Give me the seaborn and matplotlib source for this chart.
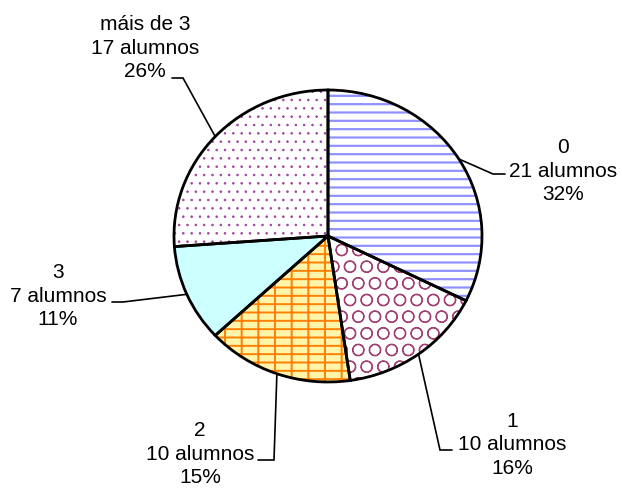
import matplotlib
matplotlib.use("Agg")
import matplotlib.pyplot as plt
import seaborn as sns
import numpy as np

# data
categories = ["0", "1", "2", "3", "máis de 3"]
alumnos = [21, 10, 10, 7, 17]
percent = [32, 16, 15, 11, 26]

# styling per slice
fills = ["white", "white", "#FFF5AA", "#CCFFFF", "white"]
hatch_colors = ["#9090FF", "#A04070", "#FF8000", "#CCFFFF", "#A040A0"]
hatches = ["--", "O", "--|", "", ".."]
hatch_lw = [1.6, 0.8, 1.4, 1.0, 0.6]

sns.set_theme(style="white")
plt.rcParams["font.family"] = ["Liberation Sans", "DejaVu Sans"]
plt.rcParams["hatch.linewidth"] = 1.0

# pie geometry in pixels (slightly wider than tall, like the original)
W, H = 622, 491
CX, CY, RX, RY = 328, 236, 154, 146


def px(x, y):
    return ((x - CX) / RX, (CY - y) / RY)


# label centre and elbow of the leader line, in pixels
label_pos = [(563, 171), (512, 445), (200, 454), (58, 296), (145, 48)]
elbows = [[(493, 174), (505, 174)],
          [(440, 450), (452, 450)],
          [(274, 460), (258, 460)],
          [(123, 302), (112, 302)],
          [(183, 78), (172, 78)]]

fig = plt.figure(figsize=(W / 100, H / 100), dpi=100)
ax = fig.add_axes([0, 0, 1, 1])

wedges, _ = ax.pie(alumnos, startangle=90, counterclock=False, radius=1,
                   colors=fills, wedgeprops=dict(linewidth=0))
for w, h, hc, lw in zip(wedges, hatches, hatch_colors, hatch_lw):
    w.set_edgecolor(hc)
    w.set_linewidth(0)
    if h:
        w.set_hatch(h)
        if hasattr(w, "set_hatch_linewidth"):
            w.set_hatch_linewidth(lw)
        else:
            w._hatch_linewidth = lw

outline, _ = ax.pie(alumnos, startangle=90, counterclock=False, radius=1,
                    colors=["none"] * len(alumnos),
                    wedgeprops=dict(linewidth=2, edgecolor="black", fill=False))

for i, w in enumerate(outline):
    mid = np.deg2rad((w.theta1 + w.theta2) / 2)
    pts = [(np.cos(mid), np.sin(mid))] + [px(*p) for p in elbows[i]]
    xs, ys = zip(*pts)
    ax.plot(xs, ys, color="black", lw=1.2, solid_joinstyle="miter")
    tx, ty = px(*label_pos[i])
    ax.text(tx, ty, f"{categories[i]}\n{alumnos[i]} alumnos\n{percent[i]}%",
            ha="center", va="center", multialignment="center", fontsize=15,
            linespacing=1.32, color="black")

ax.set_aspect("auto")
ax.set_xlim(-CX / RX, (W - CX) / RX)
ax.set_ylim(-(H - CY) / RY, CY / RY)
ax.axis("off")

fig.savefig("out.png", dpi=100, facecolor="white")
